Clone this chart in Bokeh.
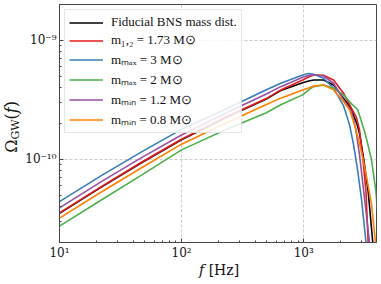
import math
from bokeh.plotting import figure
from bokeh.layouts import row, column
from bokeh.models import FixedTicker, CustomJSTickFormatter, Div
from bokeh.embed import file_html
from bokeh.resources import INLINE

# ---------------- data ----------------
x_ticks = [10, 100, 1000]
x_minor = [20, 30, 40, 50, 60, 70, 80, 90, 200, 300, 400, 500, 600, 700, 800, 900, 2000, 3000]
y_ticks = [1e-10, 1e-9]
y_minor = [2e-11, 3e-11, 4e-11, 5e-11, 6e-11, 7e-11, 8e-11, 9e-11,
           2e-10, 3e-10, 4e-10, 5e-10, 6e-10, 7e-10, 8e-10, 9e-10, 2e-9]

f_common = [10, 22, 47, 99, 231, 490, 649, 981, 1099, 1206, 1456, 1757, 2121]

fid_f = f_common + [2420, 2744, 2881, 3106, 3374, 3679, 3714]
fid_omega = [3.51e-11, 5.84e-11, 9.35e-11, 1.454e-10, 2.247e-10, 3.193e-10, 3.78e-10,
             4.406e-10, 4.55e-10, 4.642e-10, 4.642e-10, 4.217e-10, 3.267e-10,
             2.712e-10, 1.957e-10, 1.616e-10, 1.0e-10, 5.41e-11, 2.03e-11, 1.78e-11]

m12_f = f_common + [2420, 2709, 2865, 3060, 3237, 3374, 3406]
m12_omega = [3.548e-11, 5.90e-11, 9.44e-11, 1.468e-10, 2.268e-10, 3.223e-10, 3.831e-10,
             4.642e-10, 4.916e-10, 5.108e-10, 5.079e-10, 4.642e-10, 3.596e-10,
             2.78e-10, 2.239e-10, 1.778e-10, 1.0e-10, 5.41e-11, 2.03e-11, 1.78e-11]

mmax3_f = f_common + [2374, 2560, 2760, 2975, 3237, 3286]
mmax3_omega = [4.41e-11, 7.29e-11, 1.155e-10, 1.778e-10, 2.645e-10, 3.831e-10, 4.356e-10,
               5.108e-10, 5.257e-10, 5.178e-10, 4.795e-10, 3.958e-10, 2.818e-10,
               1.957e-10, 1.334e-10, 8.25e-11, 4.64e-11, 2.03e-11, 1.78e-11]

mmax2_f = f_common + [2420, 2775, 3207, 3590, 3906, 4018]
mmax2_omega = [2.749e-11, 4.55e-11, 7.356e-11, 1.195e-10, 1.778e-10, 2.449e-10, 2.873e-10,
               3.48e-10, 3.831e-10, 4.08e-10, 4.217e-10, 3.958e-10, 3.48e-10,
               2.985e-10, 2.61e-10, 1.616e-10, 1.0e-10, 5.41e-11, 3.687e-11]

mmin12_f = f_common + [2465, 2658, 2865, 3089, 3458, 3504]
mmin12_omega = [3.905e-11, 6.494e-11, 1.033e-10, 1.594e-10, 2.449e-10, 3.527e-10, 4.08e-10,
                4.887e-10, 5.06e-10, 5.138e-10, 5.012e-10, 4.356e-10, 3.162e-10,
                2.512e-10, 1.848e-10, 1.101e-10, 5.62e-11, 2.03e-11, 1.78e-11]

mmin08_f = f_common + [2374, 2608, 2812, 3031, 3299, 3590, 3870, 3906]
mmin08_omega = [3.203e-11, 5.309e-11, 8.49e-11, 1.334e-10, 2.021e-10, 2.873e-10, 3.267e-10,
                3.831e-10, 3.981e-10, 4.136e-10, 4.217e-10, 3.831e-10, 3.06e-10,
                2.61e-10, 1.957e-10, 1.468e-10, 1.059e-10, 6.81e-11, 4.217e-11, 2.03e-11, 1.78e-11]

series = [
    ("Fiducial BNS mass dist.", fid_f, fid_omega, "#000000"),
    ("m\u2081,\u2082 = 1.73 M\u2299", m12_f, m12_omega, "#e41a1c"),
    ("m\u2098\u2090\u2093 = 3 M\u2299", mmax3_f, mmax3_omega, "#377eb8"),
    ("m\u2098\u2090\u2093 = 2 M\u2299", mmax2_f, mmax2_omega, "#4daf4a"),
    ("m\u2098\u1d62\u2099 = 1.2 M\u2299", mmin12_f, mmin12_omega, "#984ea3"),
    ("m\u2098\u1d62\u2099 = 0.8 M\u2299", mmin08_f, mmin08_omega, "#ff7f00"),
]

y_label_html = "\u03a9<sub style='font-size:11px'>GW</sub>(<i>f</i>)"
x_label_html = "<i>f</i> [Hz]"

x_lo, x_hi = 10, 3950
y_lo, y_hi = 2e-11, 2e-9

TXT = "#111111"
SERIF = "DejaVu Serif"

# ---------------- main figure ----------------
p = figure(width=359, height=262, x_axis_type="log", y_axis_type="log",
           x_range=(x_lo, x_hi), y_range=(y_lo, y_hi),
           output_backend="svg", toolbar_location=None,
           min_border_left=36, min_border_right=5, min_border_top=4, min_border_bottom=19)

p.outline_line_color = "#444444"
p.outline_line_width = 1

for name, fx, om, col in series:
    p.line(fx, om, line_color=col, line_width=1.6, legend_label=name)

sup_code = """
const sup = {"0":"\u2070","1":"\u00b9","2":"\u00b2","3":"\u00b3","4":"\u2074","5":"\u2075",
             "6":"\u2076","7":"\u2077","8":"\u2078","9":"\u2079","-":"\u207b"};
const e = Math.round(Math.log10(tick));
return "10" + String(e).split("").map(c => sup[c]).join("");
"""

for ax, ticks, minor in ((p.xaxis[0], x_ticks, x_minor), (p.yaxis[0], y_ticks, y_minor)):
    ax.ticker = FixedTicker(ticks=ticks, minor_ticks=minor)
    ax.formatter = CustomJSTickFormatter(code=sup_code)
    ax.axis_line_color = "#444444"
    ax.major_tick_line_color = "#444444"
    ax.minor_tick_line_color = "#444444"
    ax.major_tick_in = 4
    ax.major_tick_out = 0
    ax.minor_tick_in = 2
    ax.minor_tick_out = 0
    ax.major_label_text_font = SERIF
    ax.major_label_text_font_size = "12px"
    ax.major_label_text_color = TXT

p.xaxis.major_label_standoff = 3
p.yaxis.major_label_standoff = 3

for g in (p.xgrid[0], p.ygrid[0]):
    g.grid_line_color = "#bdbdbd"
    g.grid_line_dash = "3 2"
    g.grid_line_width = 0.8

lg = p.legend[0]
lg.location = "top_left"
lg.margin = 5
lg.padding = 4
lg.spacing = 2
lg.glyph_width = 34
lg.glyph_height = 13
lg.label_height = 13
lg.label_standoff = 8
lg.label_text_font = "Liberation Serif"
lg.label_text_font_size = "13px"
lg.label_text_color = TXT
lg.border_line_color = "#cccccc"
lg.border_line_width = 1
lg.background_fill_color = "white"
lg.background_fill_alpha = 0.85

# ---------------- axis labels as HTML text ----------------
ylab = Div(width=22, height=262, margin=0,
           text=("<div style=\"margin-top:101px; margin-left:4px; writing-mode:vertical-rl; "
                 "transform:rotate(180deg); font-family:'DejaVu Serif'; font-size:16px; "
                 "line-height:16px; white-space:nowrap; color:#111111;\">"
                 + y_label_html + "</div>"))

xlab = Div(width=381, height=22, margin=0,
           text=("<div style=\"margin-left:199px; margin-top:0px; font-family:'DejaVu Serif'; "
                 "font-size:14px; line-height:16px; white-space:nowrap; color:#111111;\">"
                 + x_label_html + "</div>"))

layout = column(row(ylab, p, spacing=0), xlab, spacing=0)

open("out.html", "w").write(file_html(layout, INLINE))
